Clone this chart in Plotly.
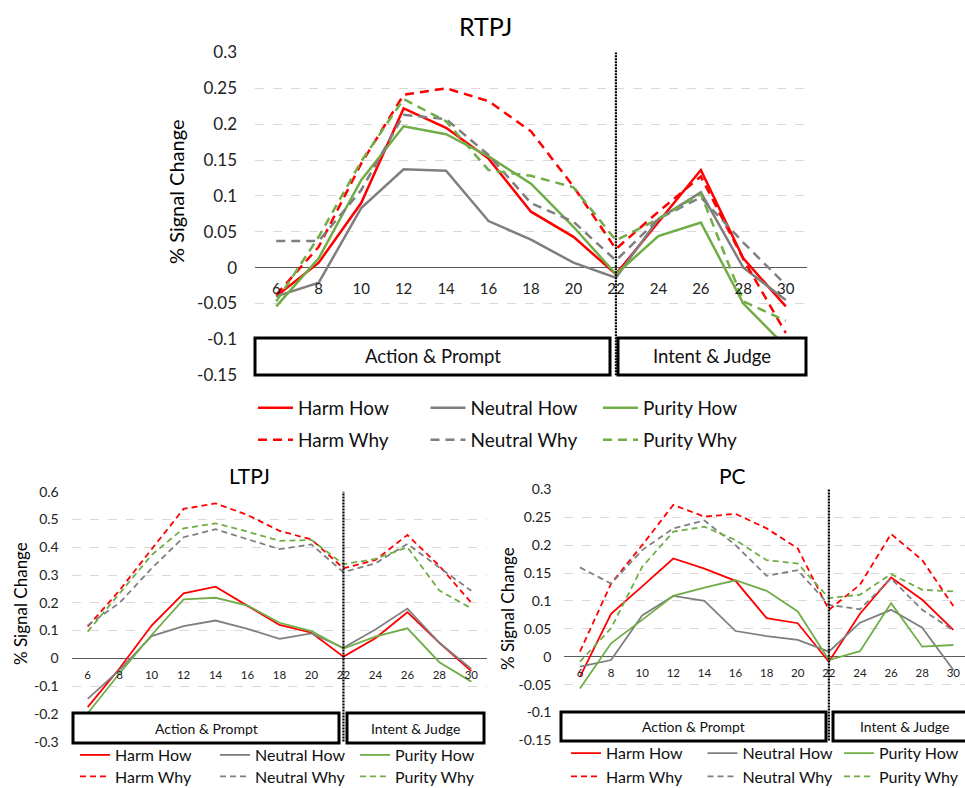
import plotly.graph_objects as go

# ---------------- data ----------------
x_vals = [6, 8, 10, 12, 14, 16, 18, 20, 22, 24, 26, 28, 30]
x_labels = ["6", "8", "10", "12", "14", "16", "18", "20", "22", "24", "26", "28", "30"]
series_names = ["Harm How", "Neutral How", "Purity How", "Harm Why", "Neutral Why", "Purity Why"]

rtpj_harm_how = [-0.040, 0.007, 0.090, 0.222, 0.195, 0.152, 0.078, 0.043, -0.009, 0.064, 0.136, 0.013, -0.054]
rtpj_neutral_how = [-0.040, -0.021, 0.083, 0.137, 0.135, 0.065, 0.039, 0.007, -0.014, 0.068, 0.105, 0.000, -0.045]
rtpj_purity_how = [-0.054, 0.013, 0.122, 0.197, 0.186, 0.155, 0.117, 0.057, -0.009, 0.044, 0.063, -0.050, -0.110]
rtpj_harm_why = [-0.038, 0.029, 0.145, 0.241, 0.250, 0.232, 0.190, 0.113, 0.026, 0.078, 0.127, 0.012, -0.091]
rtpj_neutral_why = [0.037, 0.037, 0.108, 0.213, 0.207, 0.157, 0.090, 0.064, 0.010, 0.068, 0.098, 0.035, -0.024]
rtpj_purity_why = [-0.047, 0.043, 0.148, 0.235, 0.204, 0.136, 0.128, 0.112, 0.038, 0.068, 0.103, -0.047, -0.074]

ltpj_harm_how = [-0.176, -0.036, 0.118, 0.234, 0.258, 0.190, 0.120, 0.092, 0.006, 0.072, 0.166, 0.056, -0.046]
ltpj_neutral_how = [-0.146, -0.042, 0.080, 0.116, 0.136, 0.106, 0.070, 0.090, 0.038, 0.104, 0.179, 0.056, -0.038]
ltpj_purity_how = [-0.198, -0.054, 0.084, 0.212, 0.218, 0.190, 0.128, 0.098, 0.035, 0.078, 0.108, -0.014, -0.084]
ltpj_harm_why = [0.114, 0.245, 0.393, 0.538, 0.558, 0.516, 0.459, 0.428, 0.324, 0.354, 0.444, 0.333, 0.200]
ltpj_neutral_why = [0.118, 0.200, 0.324, 0.436, 0.465, 0.430, 0.393, 0.410, 0.310, 0.342, 0.412, 0.327, 0.243]
ltpj_purity_why = [0.096, 0.234, 0.372, 0.468, 0.486, 0.456, 0.423, 0.426, 0.339, 0.358, 0.400, 0.244, 0.180]

pc_harm_how = [-0.036, 0.077, 0.126, 0.176, 0.158, 0.136, 0.069, 0.060, -0.009, 0.077, 0.142, 0.102, 0.048]
pc_neutral_how = [-0.018, -0.006, 0.074, 0.109, 0.100, 0.046, 0.037, 0.030, 0.009, 0.061, 0.084, 0.052, -0.024]
pc_purity_how = [-0.057, 0.024, 0.066, 0.109, 0.124, 0.137, 0.118, 0.081, -0.006, 0.010, 0.096, 0.018, 0.021]
pc_harm_why = [0.009, 0.131, 0.200, 0.272, 0.251, 0.256, 0.230, 0.194, 0.084, 0.129, 0.220, 0.173, 0.091]
pc_neutral_why = [0.160, 0.131, 0.191, 0.230, 0.244, 0.200, 0.145, 0.155, 0.093, 0.085, 0.140, 0.084, 0.047]
pc_purity_why = [-0.009, 0.051, 0.161, 0.224, 0.233, 0.209, 0.173, 0.167, 0.105, 0.111, 0.148, 0.120, 0.117]

rtpj_ticks = [0.3, 0.25, 0.2, 0.15, 0.1, 0.05, 0, -0.05, -0.1, -0.15]
rtpj_tick_labels = ["0.3", "0.25", "0.2", "0.15", "0.1", "0.05", "0", "-0.05", "-0.1", "-0.15"]
ltpj_ticks = [0.6, 0.5, 0.4, 0.3, 0.2, 0.1, 0, -0.1, -0.2, -0.3]
ltpj_tick_labels = ["0.6", "0.5", "0.4", "0.3", "0.2", "0.1", "0", "-0.1", "-0.2", "-0.3"]
pc_ticks = rtpj_ticks
pc_tick_labels = rtpj_tick_labels

titles = ["RTPJ", "LTPJ", "PC"]
phase_labels = ["Action & Prompt", "Intent & Judge"]
y_title = "% Signal Change"

# ---------------- styling ----------------
W, H = 965, 788
FONT = "Lato"
RED, GRAY, GREEN = "#ff0000", "#7f7f7f", "#70ad47"
colors = [RED, GRAY, GREEN, RED, GRAY, GREEN]


def px(x):
    return x / W


def py(y):
    return 1 - y / H


panels = [
    dict(name=titles[0], series=[rtpj_harm_how, rtpj_neutral_how, rtpj_purity_how,
                                 rtpj_harm_why, rtpj_neutral_why, rtpj_purity_why],
         xd=(255, 807), yd=(375.3, 52.4), xr=[5, 31], yr=[-0.15, 0.3],
         ticks=rtpj_ticks, tl=rtpj_tick_labels, lw=2.5, dash="9px,6px",
         tickfont=17, xfont=15, standoff=17, xstand=10,
         title_xy=(485, 26), title_size=25,
         ytitle_xy=(176, 192), ytitle_size=20,
         boxes=[(255, 338, 610, 375), (618, 338, 806, 375)], box_font=18.5,
         legend_rows=(408, 440), legend_x=253, itemw=35, entry=122.5, legend_font=19),
    dict(name=titles[1], series=[ltpj_harm_how, ltpj_neutral_how, ltpj_purity_how,
                                 ltpj_harm_why, ltpj_neutral_why, ltpj_purity_why],
         xd=(71.7, 487.3), yd=(741.6, 491.7), xr=[5, 31], yr=[-0.3, 0.6],
         ticks=ltpj_ticks, tl=ltpj_tick_labels, lw=1.8, dash="6px,4px",
         tickfont=14, xfont=11.5, standoff=12, xstand=8,
         title_xy=(250, 475), title_size=21,
         ytitle_xy=(20, 604), ytitle_size=17,
         boxes=[(73, 713, 339, 743), (347, 713, 484, 743)], box_font=14,
         legend_rows=(755, 776.5), legend_x=75, itemw=30, entry=95, legend_font=16),
    dict(name=titles[2], series=[pc_harm_how, pc_neutral_how, pc_purity_how,
                                 pc_harm_why, pc_neutral_why, pc_purity_why],
         xd=(564.4, 965), yd=(740.4, 489.3), xr=[5, 30.75], yr=[-0.15, 0.3],
         ticks=pc_ticks, tl=pc_tick_labels, lw=1.8, dash="6px,4px",
         tickfont=14, xfont=11.5, standoff=12, xstand=8,
         title_xy=(732, 475), title_size=21,
         ytitle_xy=(507, 608), ytitle_size=17,
         boxes=[(561, 712, 826, 741), (833, 712, 975, 741)], box_font=14,
         legend_rows=(753.3, 776.5), legend_x=566, itemw=30, entry=91.5, legend_font=16),
]

fig = go.Figure()
layout = dict(width=W, height=H, margin=dict(l=0, r=0, t=0, b=0, autoexpand=False),
              paper_bgcolor="white", plot_bgcolor="white",
              font=dict(family=FONT, color="#222222"))
shapes = []
annotations = []

legend_idx = 1
for i, p in enumerate(panels):
    n = "" if i == 0 else str(i + 1)
    xa, ya = "x" + n, "y" + n
    xd = [px(p["xd"][0]), min(1.0, px(p["xd"][1]))]
    yd = [py(p["yd"][0]), py(p["yd"][1])]
    y0, y1 = p["yr"]
    zero_pos = yd[0] + (0 - y0) / (y1 - y0) * (yd[1] - yd[0])

    layout["xaxis" + n] = dict(domain=xd, range=p["xr"], anchor="free", position=zero_pos,
                               tickvals=x_vals, ticktext=x_labels, showgrid=False,
                               zeroline=False, showline=False, ticks="",
                               ticklabelstandoff=p["xstand"],
                               tickfont=dict(size=p["xfont"], family=FONT, color="#222222"))
    layout["yaxis" + n] = dict(domain=yd, range=p["yr"], anchor=xa,
                               tickvals=p["ticks"], ticktext=p["tl"], showgrid=True,
                               gridcolor="#d9d9d9", griddash="dash", gridwidth=1,
                               zeroline=True, zerolinecolor="#595959", zerolinewidth=1.2,
                               showline=False, ticks="", ticklabelstandoff=p["standoff"],
                               tickfont=dict(size=p["tickfont"], family=FONT, color="#222222"))

    leg_how = "legend" if legend_idx == 1 else "legend" + str(legend_idx)
    leg_why = "legend" + str(legend_idx + 1)
    for r, yrow in enumerate(p["legend_rows"]):
        key = "legend" if legend_idx + r == 1 else "legend" + str(legend_idx + r)
        layout[key] = dict(orientation="h", x=px(p["legend_x"]), xanchor="left",
                           y=py(yrow), yanchor="middle", entrywidth=p["entry"],
                           entrywidthmode="pixels", itemwidth=p["itemw"],
                           bgcolor="rgba(0,0,0,0)",
                           font=dict(size=p["legend_font"], family=FONT, color="#111111"),
                           traceorder="normal", itemclick=False)
    legend_idx += 2

    for k, (name, vals) in enumerate(zip(series_names, p["series"])):
        fig.add_trace(go.Scatter(
            x=x_vals, y=vals, mode="lines", name=name, xaxis=xa, yaxis=ya,
            line=dict(color=colors[k], width=p["lw"], dash="solid" if k < 3 else p["dash"]),
            legend=leg_how if k < 3 else leg_why, showlegend=True, hoverinfo="skip"))

    # vertical phase divider at 22
    shapes.append(dict(type="line", xref=xa, yref=ya + " domain", x0=22, x1=22, y0=0, y1=1,
                       line=dict(color="black", width=2.2, dash="2px,1px"), layer="above"))
    # phase boxes
    for b, lab in zip(p["boxes"], phase_labels):
        shapes.append(dict(type="rect", xref="paper", yref="paper",
                           x0=px(b[0]), x1=px(b[2]), y0=py(b[3]), y1=py(b[1]),
                           line=dict(color="black", width=3), fillcolor="white", layer="above"))
        annotations.append(dict(xref="paper", yref="paper", x=px((b[0] + b[2]) / 2),
                                y=py((b[1] + b[3]) / 2),
                                text=lab, showarrow=False, xanchor="center", yanchor="middle",
                                font=dict(size=p["box_font"], family=FONT, color="#111111")))
    # title
    annotations.append(dict(xref="paper", yref="paper", x=px(p["title_xy"][0]), y=py(p["title_xy"][1]),
                            text=p["name"], showarrow=False, xanchor="center", yanchor="middle",
                            font=dict(size=p["title_size"], family=FONT, color="black")))
    # y title
    annotations.append(dict(xref="paper", yref="paper", x=px(p["ytitle_xy"][0]), y=py(p["ytitle_xy"][1]),
                            text=y_title, showarrow=False, textangle=-90,
                            xanchor="center", yanchor="middle",
                            font=dict(size=p["ytitle_size"], family=FONT, color="black")))

layout["shapes"] = shapes
layout["annotations"] = annotations
fig.update_layout(**layout)
fig.write_html("out.html", config={"displayModeBar": False},
               post_script="document.body.style.margin='0';document.body.style.padding='0';")
